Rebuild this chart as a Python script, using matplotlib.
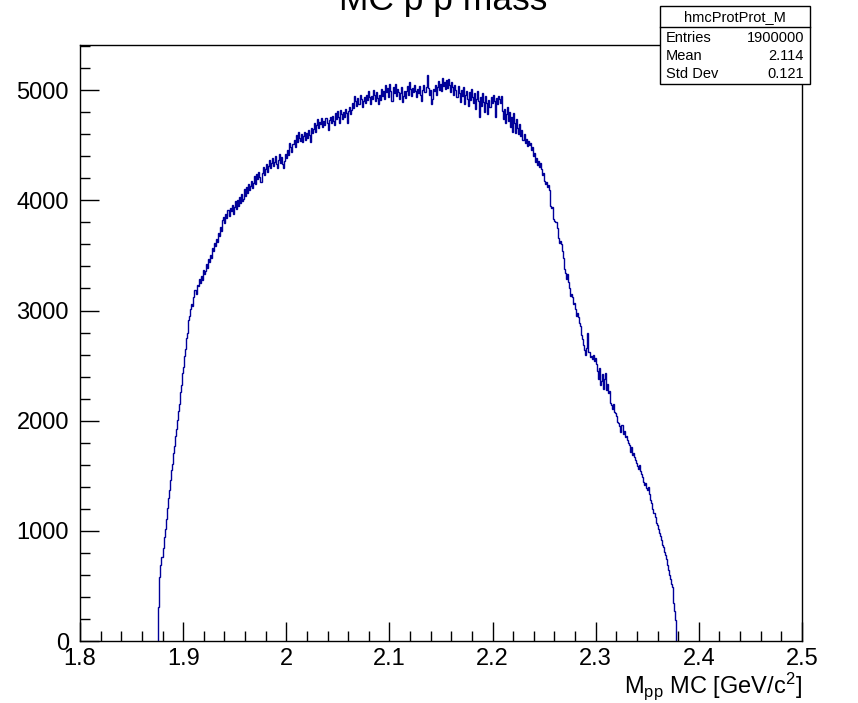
import numpy as np
import matplotlib
matplotlib.use('Agg')
import matplotlib.pyplot as plt
from matplotlib.patches import Rectangle

plt.rcParams['font.family'] = ['Liberation Sans', 'DejaVu Sans']
plt.rcParams['mathtext.fontset'] = 'custom'
plt.rcParams['mathtext.rm'] = 'Liberation Sans'
plt.rcParams['mathtext.it'] = 'Liberation Sans'

# histogram hmcProtProt_M : contenu des bins (largeur 0.001 GeV, a partir de 1.876)
bin_lo = 1.876
bin_width = 0.001
counts = [
    310, 580, 690, 760, 840, 940, 1020, 1110, 1210, 1300,
    1370, 1460, 1550, 1610, 1710, 1770, 1860, 1920, 2010, 2090,
    2150, 2260, 2320, 2430, 2490, 2590, 2650, 2750, 2800, 2910,
    2950, 3010, 3060, 3040, 3120, 3190, 3150, 3230, 3220, 3290,
    3250, 3310, 3280, 3370, 3330, 3360, 3420, 3390, 3470, 3440,
    3500, 3480, 3570, 3540, 3610, 3590, 3650, 3620, 3700, 3680,
    3760, 3720, 3820, 3850, 3790, 3880, 3840, 3910, 3860, 3930,
    3900, 3960, 3880, 3940, 3990, 3920, 4000, 3950, 4030, 3980,
    4060, 3990, 4010, 4100, 4040, 4120, 4070, 4150, 4090, 4130,
    4180, 4110, 4160, 4220, 4150, 4240, 4190, 4260, 4210, 4170,
    4250, 4300, 4230, 4280, 4330, 4260, 4310, 4370, 4290, 4340,
    4380, 4310, 4350, 4400, 4330, 4290, 4370, 4420, 4340, 4390,
    4330, 4290, 4360, 4420, 4380, 4460, 4410, 4520, 4480, 4440,
    4510, 4550, 4480, 4590, 4530, 4620, 4570, 4540, 4600, 4530,
    4580, 4620, 4550, 4610, 4570, 4640, 4590, 4530, 4660, 4610,
    4650, 4700, 4620, 4680, 4740, 4660, 4710, 4690, 4750, 4670,
    4720, 4680, 4750, 4700, 4640, 4730, 4760, 4700, 4770, 4720,
    4680, 4790, 4740, 4810, 4760, 4700, 4820, 4780, 4740, 4800,
    4760, 4830, 4790, 4700, 4810, 4850, 4780, 4820, 4880, 4840,
    4950, 4900, 4860, 4930, 4870, 4960, 4920, 4850, 4900, 4940,
    4880, 4960, 4910, 4990, 4940, 4870, 4950, 4920, 5000, 4960,
    4900, 4980, 4930, 4870, 4960, 4910, 5010, 4950, 4990, 4920,
    5050, 4980, 5020, 4940, 5060, 4990, 4900, 5030, 4970, 5060,
    4950, 5010, 4980, 4920, 4970, 5030, 4890, 4950, 4990, 4930,
    4990, 5040, 4960, 5070, 5010, 4950, 5020, 4980, 5050, 4990,
    4940, 5010, 4970, 5040, 4960, 4900, 5000, 5050, 4980, 5030,
    5140, 5020, 4960, 5000, 4870, 4920, 5010, 4990, 5050, 4960,
    5030, 5080, 5000, 5060, 4990, 5110, 5040, 5070, 5010, 5090,
    5020, 5100, 5050, 4980, 5070, 5030, 4960, 5050, 5000, 4940,
    5040, 4970, 4890, 5000, 4950, 5030, 4870, 4960, 4990, 4920,
    4860, 4980, 4910, 5010, 4940, 4880, 4970, 4830, 4920, 4990,
    4900, 4760, 4940, 4860, 4970, 4890, 4800, 4950, 4880, 4780,
    4910, 4850, 4940, 4880, 4960, 4900, 4760, 4930, 4870, 4950,
    4920, 4880, 4950, 4810, 4740, 4830, 4700, 4780, 4850, 4720,
    4800, 4670, 4760, 4620, 4790, 4700, 4610, 4740, 4660, 4600,
    4690, 4580, 4640, 4550, 4600, 4520, 4560, 4490, 4540, 4500,
    4520, 4460, 4480, 4400, 4430, 4350, 4380, 4320, 4360, 4300,
    4340, 4280, 4230, 4250, 4180, 4150, 4170, 4120, 4140, 4090,
    3950, 3930, 3940, 3830, 3810, 3800, 3750, 3660, 3610, 3630,
    3600, 3540, 3480, 3380, 3340, 3290, 3330, 3260, 3200, 3130,
    3150, 3120, 3060, 3070, 3010, 2950, 2980, 2940, 2890, 2860,
    2780, 2740, 2690, 2640, 2600, 2660, 2800, 2620, 2580, 2590,
    2560, 2600, 2540, 2570, 2510, 2450, 2380, 2480, 2320, 2360,
    2420, 2290, 2380, 2430, 2280, 2330, 2250, 2270, 2160, 2140,
    2110, 2150, 2080, 2070, 2040, 1990, 1980, 1950, 1900, 1960,
    1880, 1910, 1850, 1860, 1820, 1800, 1780, 1720, 1760, 1690,
    1710, 1670, 1640, 1620, 1590, 1560, 1600, 1540, 1520, 1490,
    1440, 1420, 1430, 1390, 1370, 1400, 1330, 1280, 1250, 1200,
    1160, 1130, 1070, 1050, 1020, 980, 950, 920, 870, 850,
    810, 780, 740, 690, 640, 600, 560, 520, 490, 345,
    270, 190,
]

stats_nome = 'hmcProtProt_M'
stats_rotulos = ['Entries', 'Mean', 'Std Dev']
stats_valores = ['1900000', '2.114', '0.121']

cor_hist = '#000099'

fig = plt.figure(figsize=(8.58, 7.03), dpi=100)
ax = fig.add_axes([80 / 858, 1 - 641 / 703, 722 / 858, 596 / 703])

bordas = bin_lo + bin_width * np.arange(len(counts) + 1)
ax.stairs(counts, bordas, baseline=0, color=cor_hist, linewidth=1.0)

ax.set_xlim(1.8, 2.5)
ax.set_ylim(0, 5410)
ax.set_xticks(np.arange(1.8, 2.501, 0.1))
ax.set_xticklabels(['1.8', '1.9', '2', '2.1', '2.2', '2.3', '2.4', '2.5'])
ax.set_xticks(np.arange(1.8, 2.501, 0.02), minor=True)
ax.set_yticks(np.arange(0, 5001, 1000))
ax.set_yticks(np.arange(0, 5401, 200), minor=True)

ax.tick_params(which='both', direction='in', top=False, right=False, labelsize=17, width=1)
ax.tick_params(which='major', length=14)
ax.tick_params(which='minor', length=7)
ax.tick_params(axis='y', pad=8)
ax.tick_params(axis='x', pad=5)
for s in ax.spines.values():
    s.set_linewidth(1)

ax.set_xlabel(r'M$_{\mathrm{pp}}$ MC [GeV/c$^{\mathrm{2}}$]', fontsize=17, loc='right', labelpad=0)

# titulo (cortado no topo, como no original)
fig.text(443 / 858, 1 - 10 / 703, 'MC p p mass', fontsize=25.5, ha='center', va='baseline')

# caixa de estatisticas
bx0, bx1, by0, by1, bh = 660, 810, 6, 84, 27
fig.patches.append(Rectangle((bx0 / 858, 1 - by1 / 703), (bx1 - bx0) / 858, (by1 - by0) / 703,
                             transform=fig.transFigure, facecolor='white', edgecolor='black',
                             linewidth=1, zorder=5))
fig.lines.append(plt.Line2D([bx0 / 858, bx1 / 858], [1 - bh / 703, 1 - bh / 703],
                            transform=fig.transFigure, color='black', linewidth=1, zorder=6))
fig.text((bx0 + bx1) / 2 / 858, 1 - 17 / 703, stats_nome, fontsize=10.5, ha='center', va='center', zorder=7)
for i, (r, v) in enumerate(zip(stats_rotulos, stats_valores)):
    yy = 1 - (38 + 18 * i) / 703
    fig.text((bx0 + 6) / 858, yy, r, fontsize=10.5, ha='left', va='center', zorder=7)
    fig.text((bx1 - 6) / 858, yy, v, fontsize=10.5, ha='right', va='center', zorder=7)

fig.savefig('out.png', dpi=100)
